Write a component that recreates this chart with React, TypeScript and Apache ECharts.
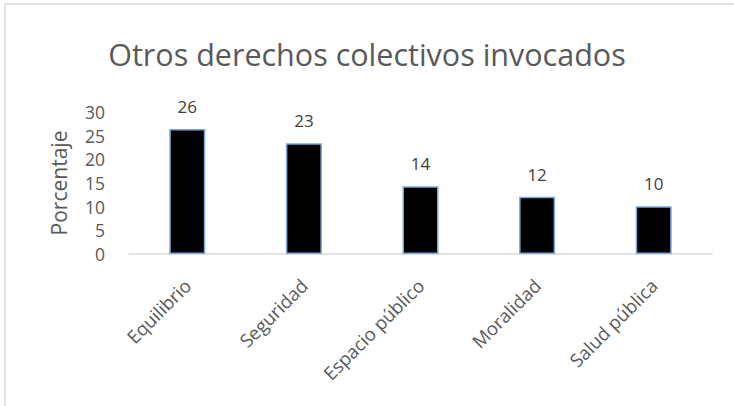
import React, { useEffect, useRef } from "react";
import * as echarts from "echarts";

const categories = ["Equilibrio", "Seguridad", "Espacio público", "Moralidad", "Salud pública"];
const values = [26.4, 23.4, 14.3, 12.1, 10.1];
const yTicks = { min: 0, max: 30, interval: 5 };
const titleText = "Otros derechos colectivos invocados";
const yAxisName = "Porcentaje";

export default function App() {
  const ref = useRef<HTMLDivElement>(null);
  useEffect(() => {
    const chart = echarts.init(ref.current!, null, { renderer: "svg" });
    const font = "'Open Sans', 'Liberation Sans', sans-serif";
    chart.setOption({
      animation: false,
      backgroundColor: "#ffffff",
      textStyle: { fontFamily: font },
      graphic: [
        {
          type: "rect",
          shape: { x: 5, y: 4, width: 800, height: 500 },
          style: { fill: "none", stroke: "#d9d9d9", lineWidth: 1.5 },
          silent: true,
        },
      ],
      title: {
        text: titleText,
        left: "center",
        top: 33,
        textStyle: { fontFamily: font, fontSize: 30.5, fontWeight: "normal", color: "#595959" },
      },
      grid: { left: 129, right: 22, top: 112, bottom: 152, containLabel: false },
      xAxis: {
        type: "category",
        data: categories,
        axisLine: { lineStyle: { color: "#d9d9d9", width: 1.5 } },
        axisTick: { show: false },
        axisLabel: { rotate: 45, color: "#595959", fontSize: 18.5, margin: 28, fontFamily: font },
      },
      yAxis: {
        type: "value",
        min: yTicks.min,
        max: yTicks.max,
        interval: yTicks.interval,
        name: yAxisName,
        nameLocation: "middle",
        nameGap: 60,
        nameRotate: 90,
        nameTextStyle: { color: "#595959", fontSize: 21, fontFamily: font },
        axisLine: { show: false },
        axisTick: { show: false },
        splitLine: { show: false },
        axisLabel: { color: "#595959", fontSize: 17.5, margin: 24, fontFamily: font },
      },
      series: [
        {
          type: "bar",
          data: values,
          barWidth: 36,
          itemStyle: { color: "#000000", borderColor: "#7aa6dc", borderWidth: 1.5 },
          label: {
            show: true,
            position: "top",
            distance: 14,
            color: "#404040",
            fontSize: 17,
            fontFamily: font,
            formatter: (p: any) => String(Math.round(p.value)),
          },
        },
      ],
    });
    return () => chart.dispose();
  }, []);
  return (
    <div
      ref={ref}
      style={{ position: "fixed", left: 0, top: 0, width: 734, height: 406 }}
    />
  );
}
